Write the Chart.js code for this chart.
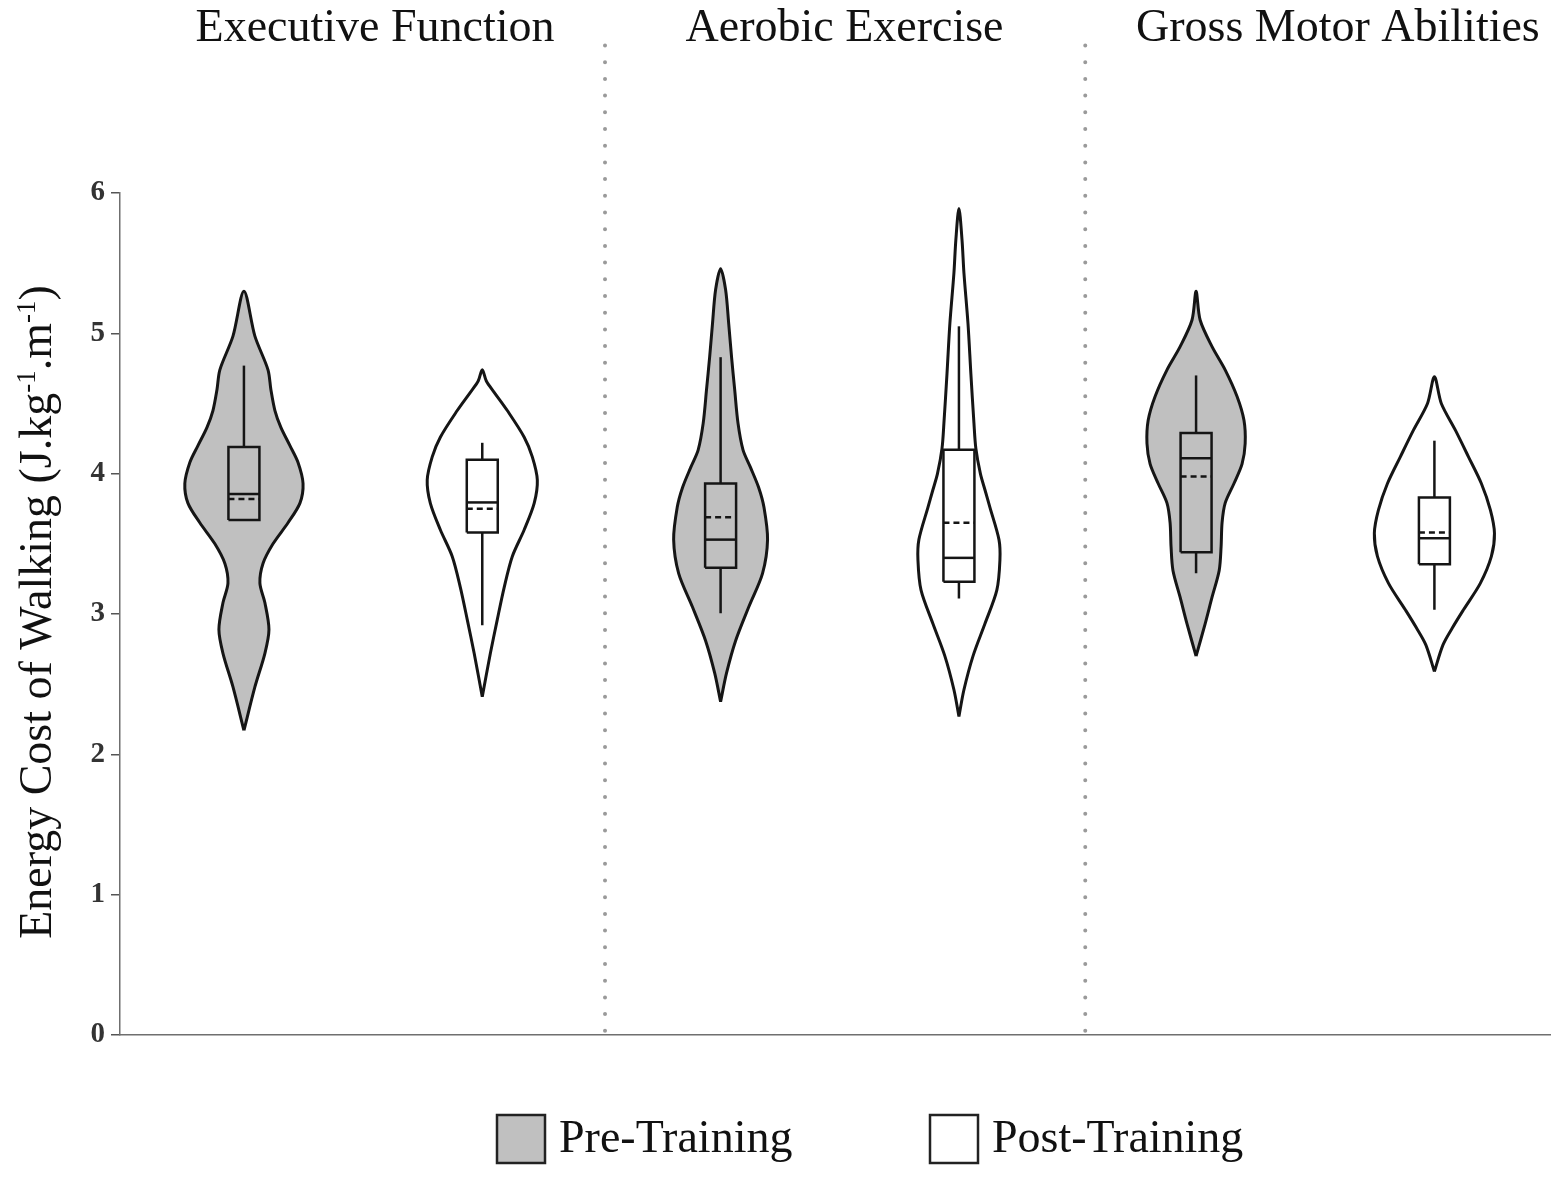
<!DOCTYPE html>
<html>
<head>
<meta charset="utf-8">
<script src="https://cdn.jsdelivr.net/npm/chart.js@4.4.1/dist/chart.umd.min.js"></script>
<style>
  html, body { margin: 0; padding: 0; background: #fff; }
  #wrap { width: 1559px; height: 1179px; }
</style>
</head>
<body>
<div id="wrap"><canvas id="violinChart" width="1559" height="1179"></canvas></div>
<script>
// Groups and phases
const categories = ["Executive Function", "Aerobic Exercise", "Gross Motor Abilities"];
const phases = ["Pre-Training", "Post-Training"];
const yTicks = [0, 1, 2, 3, 4, 5, 6];

// Violin outlines: energy cost levels and half-widths (x units)
const efPreY  = [5.30, 4.98, 4.74, 4.60, 4.45, 4.33, 4.20, 4.08, 3.93, 3.79, 3.65, 3.50, 3.36, 3.22, 3.08, 2.89, 2.72, 2.48, 2.17];
const efPreW  = [0, .046, .101, .113, .130, .155, .193, .227, .248, .235, .185, .122, .080, .067, .088, .105, .088, .046, 0];
const efPostY = [4.74, 4.66, 4.58, 4.45, 4.26, 4.12, 3.955, 3.79, 3.60, 3.41, 3.19, 2.96, 2.72, 2.41];
const efPostW = [0, .017, .050, .105, .176, .210, .231, .218, .176, .126, .092, .063, .034, 0];
const aePreY  = [5.46, 5.31, 5.07, 4.83, 4.60, 4.36, 4.17, 4.05, 3.90, 3.76, 3.53, 3.29, 3.05, 2.81, 2.58, 2.375];
const aePreW  = [0, .021, .034, .046, .059, .073, .094, .124, .160, .182, .197, .176, .118, .063, .025, 0];
const aePostY = [5.89, 5.665, 5.43, 5.07, 4.715, 4.36, 4.18, 4.00, 3.88, 3.76, 3.53, 3.385, 3.17, 2.93, 2.70, 2.46, 2.27];
const aePostW = [0, .013, .021, .038, .050, .063, .071, .090, .110, .130, .168, .172, .159, .109, .059, .021, 0];
const gmPreY  = [5.30, 5.095, 4.905, 4.74, 4.55, 4.38, 4.215, 4.07, 3.93, 3.79, 3.65, 3.48, 3.31, 3.12, 2.93, 2.70];
const gmPreW  = [0, .017, .067, .122, .172, .201, .206, .193, .159, .122, .109, .105, .097, .067, .038, 0];
const gmPostY = [4.69, 4.50, 4.31, 4.12, 3.93, 3.74, 3.575, 3.41, 3.22, 3.03, 2.90, 2.78, 2.59];
const gmPostW = [0, .029, .088, .143, .197, .235, .252, .239, .193, .122, .075, .036, 0];

// Box plot stats, order: EF pre, EF post, AE pre, AE post, GM pre, GM post
const whiskerLow  = [3.67, 2.92, 3.005, 3.11, 3.29, 3.03];
const q1          = [3.67, 3.58, 3.33, 3.23, 3.44, 3.355];
const median      = [3.855, 3.795, 3.53, 3.40, 4.11, 3.54];
const mean        = [3.82, 3.75, 3.69, 3.65, 3.98, 3.58];
const q3          = [4.19, 4.10, 3.93, 4.17, 4.29, 3.83];
const whiskerHigh = [4.77, 4.22, 4.83, 5.05, 4.70, 4.235];

// layout along the x axis (0..6)
const centers = [0.52, 1.52, 2.52, 3.52, 4.515, 5.515];
const separators = [2.035, 4.05];
const titlePos = [1.07, 3.04, 5.11];
const boxHalf = 0.065;

const violinY = [efPreY, efPostY, aePreY, aePostY, gmPreY, gmPostY];
const violinW = [efPreW, efPostW, aePreW, aePostW, gmPreW, gmPostW];

const PRE_FILL = "#c0c0c0";
const INK = "#151515";

const datasets = [];

violinY.forEach((ys, i) => {
    const c = centers[i];
    const ws = violinW[i];
    const pts = [];
    // right side bottom -> top, then left side top -> bottom
    for (let k = ys.length - 1; k >= 0; k--) pts.push({ x: c + ws[k], y: ys[k] });
    for (let k = 1; k < ys.length; k++) pts.push({ x: c - ws[k], y: ys[k] });

    datasets.push({
        data: pts,
        fill: "shape",
        backgroundColor: i % 2 === 0 ? PRE_FILL : "#ffffff",
        borderColor: INK,
        borderWidth: 3,
        tension: 0.3,
        pointRadius: 0,
        order: 5
    });

    const line = (data, extra) => Object.assign({
        data: data,
        fill: false,
        borderColor: INK,
        borderWidth: 2.5,
        tension: 0,
        pointRadius: 0,
        order: 1
    }, extra || {});

    // box
    datasets.push(line([
        { x: c - boxHalf, y: q1[i] }, { x: c + boxHalf, y: q1[i] },
        { x: c + boxHalf, y: q3[i] }, { x: c - boxHalf, y: q3[i] },
        { x: c - boxHalf, y: q1[i] }
    ]));
    // whiskers
    datasets.push(line([{ x: c, y: q3[i] }, { x: c, y: whiskerHigh[i] }]));
    if (whiskerLow[i] < q1[i]) {
        datasets.push(line([{ x: c, y: q1[i] }, { x: c, y: whiskerLow[i] }]));
    }
    // median (solid) and mean (dashed)
    datasets.push(line([{ x: c - boxHalf, y: median[i] }, { x: c + boxHalf, y: median[i] }]));
    datasets.push(line([{ x: c - boxHalf, y: mean[i] }, { x: c + boxHalf, y: mean[i] }],
        { borderDash: [6, 4], borderWidth: 2.5 }));
});

// dotted group separators (run up past the plot top)
separators.forEach(s => {
    datasets.push({
        data: [{ x: s, y: 0.03 }, { x: s, y: 7.08 }],
        fill: false,
        borderColor: "#9a9a9a",
        borderWidth: 4,
        borderDash: [0, 16.7],
        borderCapStyle: "round",
        pointRadius: 0,
        clip: false,
        order: 8
    });
});

// group titles, axis title with superscripts, legend
const decorPlugin = {
    id: "decor",
    afterDraw(chart) {
        const ctx = chart.ctx;
        const xs = chart.scales.x;
        const area = chart.chartArea;
        ctx.save();

        // group titles
        ctx.fillStyle = "#111";
        ctx.font = "46px 'Liberation Serif'";
        ctx.textAlign = "center";
        ctx.textBaseline = "middle";
        categories.forEach((name, i) => {
            ctx.fillText(name, xs.getPixelForValue(titlePos[i]), 29);
        });

        // rotated y axis title
        const parts = [
            ["Energy Cost of Walking (J.kg", false],
            ["-1", true],
            [".m", false],
            ["-1", true],
            [")", false]
        ];
        const mainFont = "46px 'Liberation Serif'";
        const supFont = "27px 'Liberation Serif'";
        let total = 0;
        parts.forEach(p => {
            ctx.font = p[1] ? supFont : mainFont;
            total += ctx.measureText(p[0]).width;
        });
        ctx.translate(36, (area.top + area.bottom) / 2 - 2);
        ctx.rotate(-Math.PI / 2);
        ctx.textAlign = "left";
        ctx.textBaseline = "alphabetic";
        let px = -total / 2;
        parts.forEach(p => {
            ctx.font = p[1] ? supFont : mainFont;
            ctx.fillText(p[0], px, p[1] ? -1 : 15);
            px += ctx.measureText(p[0]).width;
        });
        ctx.setTransform(1, 0, 0, 1, 0, 0);

        // legend
        const legendX = [497, 930];
        const legendFill = [PRE_FILL, "#ffffff"];
        ctx.font = "46px 'Liberation Serif'";
        ctx.textBaseline = "middle";
        ctx.textAlign = "left";
        phases.forEach((name, i) => {
            ctx.fillStyle = legendFill[i];
            ctx.fillRect(legendX[i], 1115, 48, 48);
            ctx.lineWidth = 2.5;
            ctx.strokeStyle = "#222";
            ctx.strokeRect(legendX[i], 1115, 48, 48);
            ctx.fillStyle = "#111";
            ctx.fillText(name, legendX[i] + 62, 1140);
        });
        ctx.restore();
    }
};

new Chart(document.getElementById("violinChart").getContext("2d"), {
    type: "line",
    data: { datasets: datasets },
    options: {
        responsive: false,
        animation: false,
        events: [],
        layout: { padding: { top: 193, right: 9, left: 0, bottom: 0 } },
        plugins: {
            legend: { display: false },
            tooltip: { enabled: false }
        },
        scales: {
            x: {
                type: "linear",
                min: 0,
                max: 6,
                ticks: { display: false },
                grid: { display: false },
                border: { display: true, color: "#6f6f6f", width: 1.5 },
                afterFit(scale) { scale.height = 144; }
            },
            y: {
                type: "linear",
                min: 0,
                max: 6,
                afterBuildTicks(scale) { scale.ticks = yTicks.map(v => ({ value: v })); },
                ticks: {
                    color: "#333",
                    padding: 6,
                    font: { family: "'Liberation Serif'", size: 29, weight: "bold" }
                },
                grid: {
                    display: true,
                    drawOnChartArea: false,
                    drawTicks: true,
                    tickLength: 9,
                    color: "#555",
                    lineWidth: 1.5
                },
                border: { display: true, color: "#6f6f6f", width: 1.5 },
                afterFit(scale) { scale.width = 120; }
            }
        }
    },
    plugins: [decorPlugin]
});
</script>
</body>
</html>
